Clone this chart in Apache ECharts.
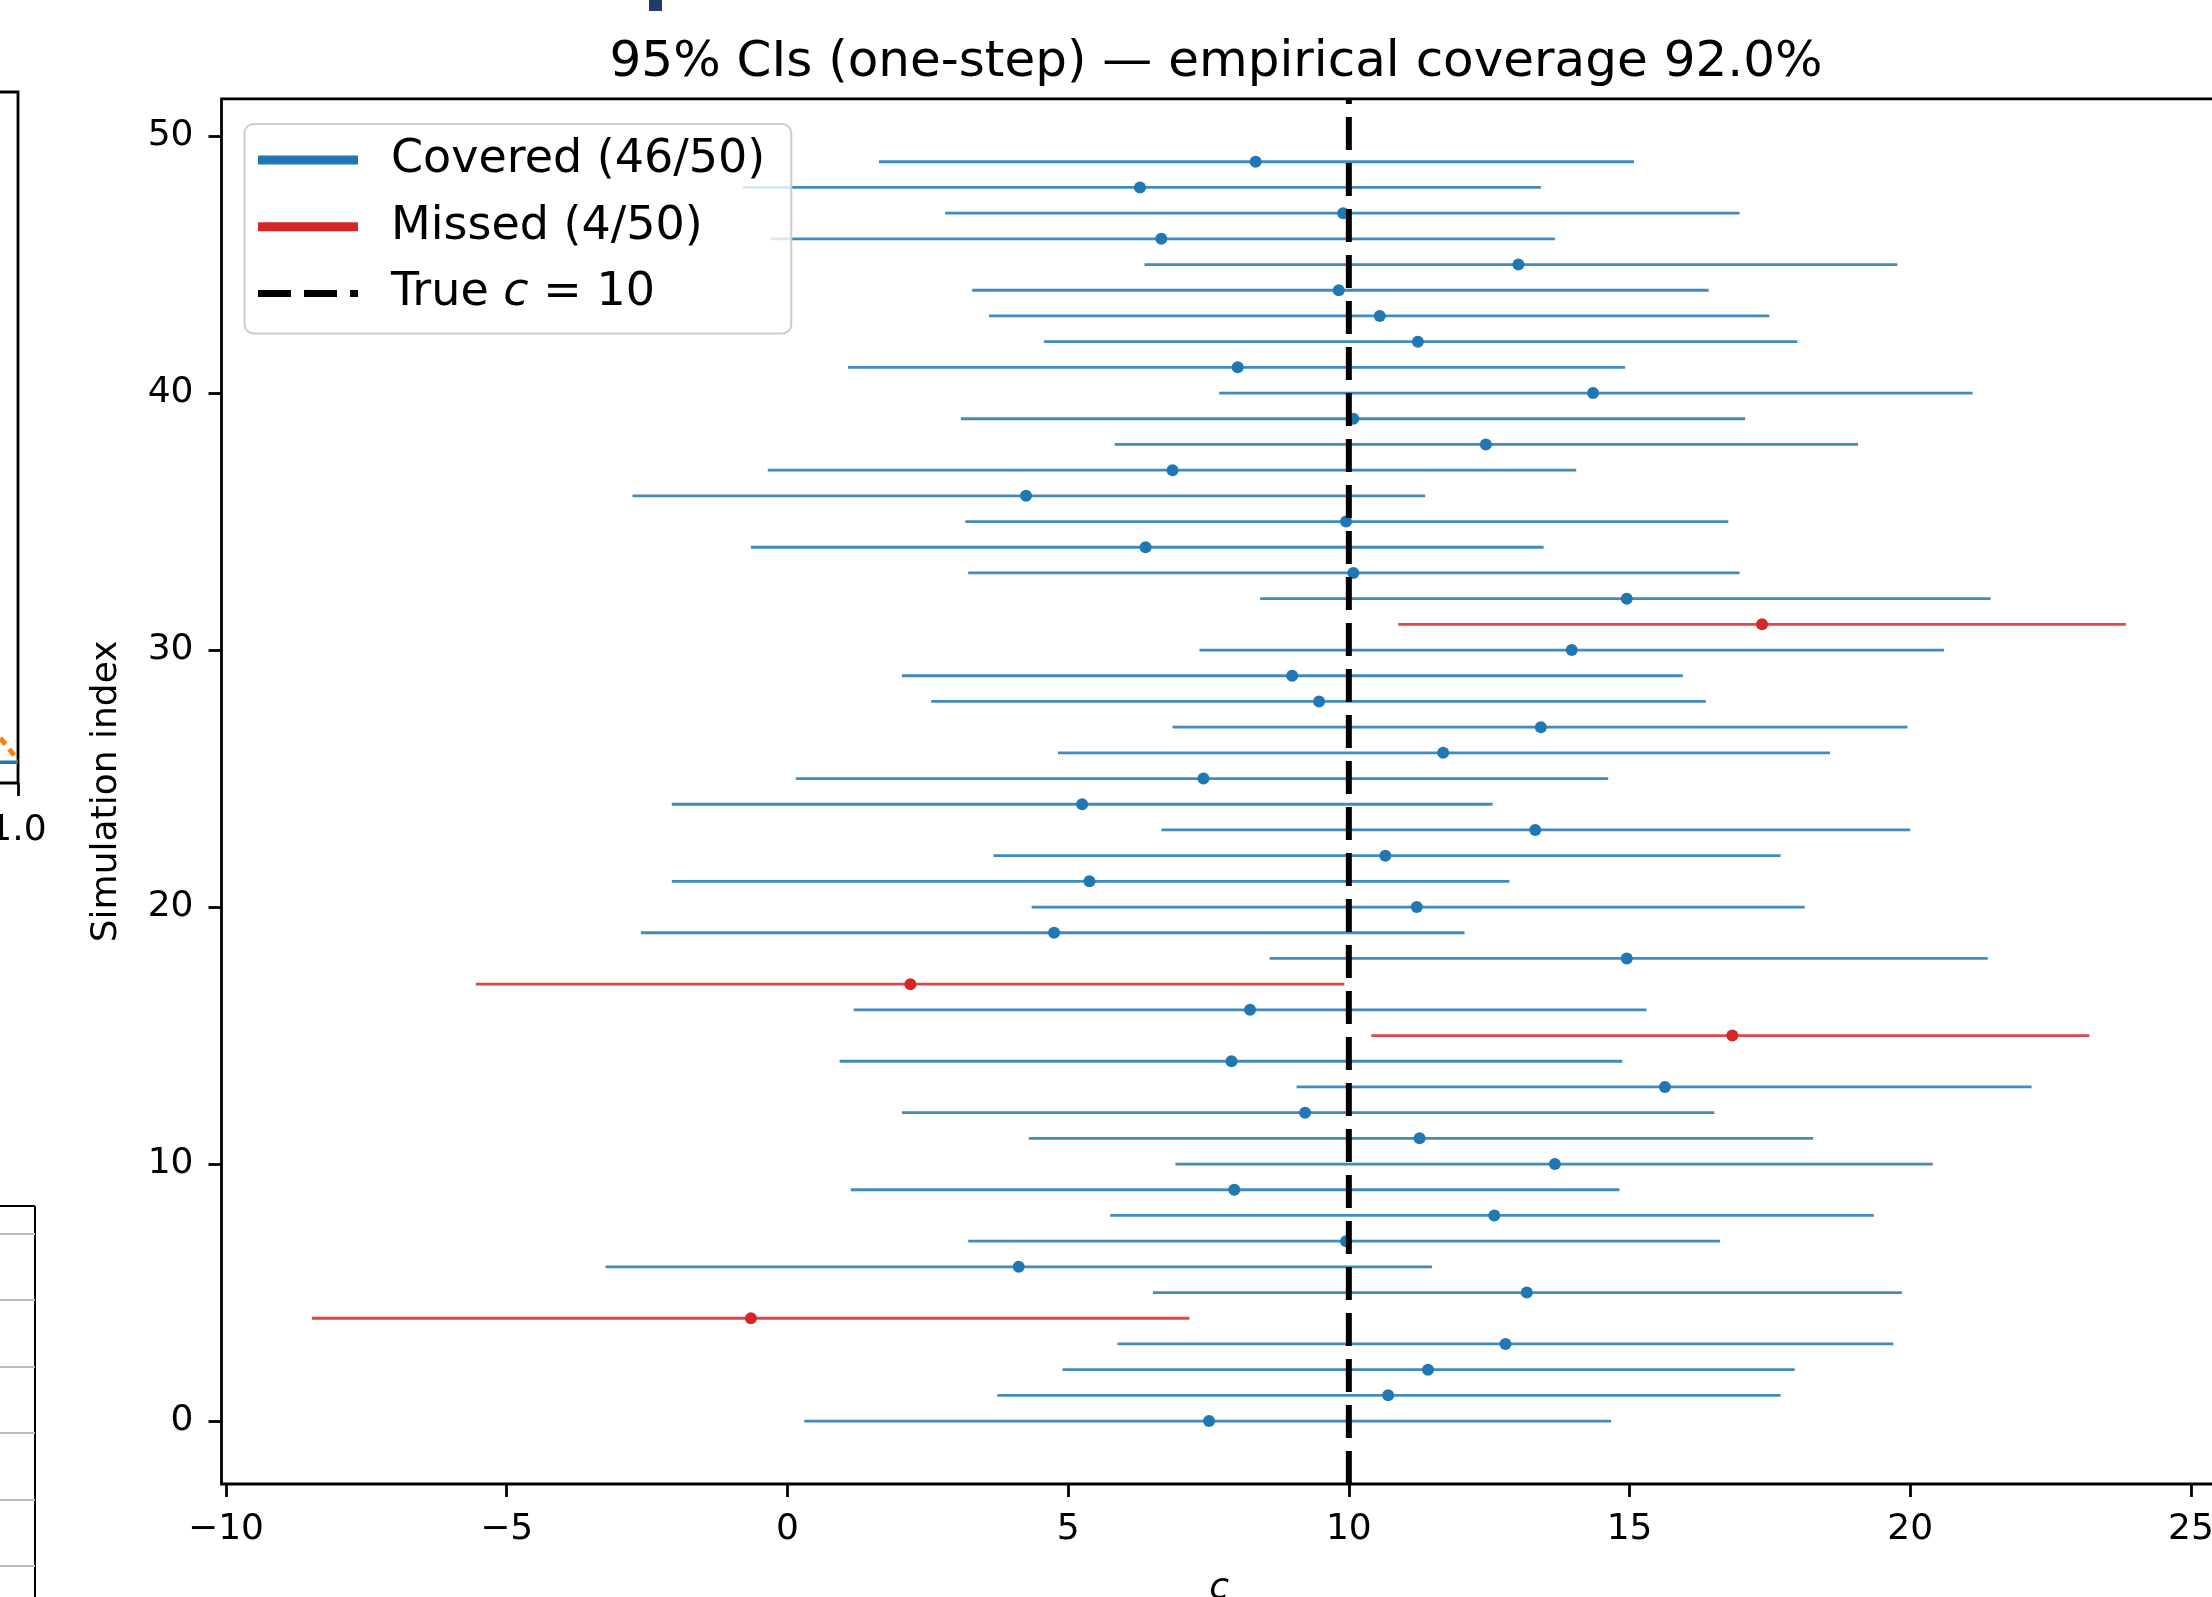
<!DOCTYPE html>
<html>
<head>
<meta charset="utf-8">
<script src="https://cdn.jsdelivr.net/npm/echarts@6/dist/echarts.min.js"></script>
<style>
  html, body { margin: 0; padding: 0; background: #fff; }
  #chart { width: 2212px; height: 1597px; }
</style>
</head>
<body>
<div id="chart"></div>
<script>
// simulation index (y) and the 95% interval
const simIndex = [0, 1, 2, 3, 4, 5, 6, 7, 8, 9, 10, 11, 12, 13, 14, 15, 16, 17, 18, 19,
  20, 21, 22, 23, 24, 25, 26, 27, 28, 29, 30, 31, 32, 33, 34, 35, 36, 37, 38, 39,
  40, 41, 42, 43, 44, 45, 46, 47, 48, 49];
const ciLow = [0.30, 3.74, 4.90, 5.88, -8.47, 6.51, -3.24, 3.22, 5.75, 1.13,
  6.91, 4.30, 2.04, 9.07, 0.93, 10.40, 1.18, -5.55, 8.59, -2.61,
  4.35, -2.06, 3.67, 6.66, -2.06, 0.15, 4.82, 6.86, 2.56, 2.04,
  7.34, 10.88, 8.42, 3.22, -0.65, 3.17, -2.76, -0.35, 5.83, 3.09,
  7.69, 1.08, 4.57, 3.59, 3.29, 6.36, -0.30, 2.81, -0.80, 1.63];
const estimate = [7.51, 10.70, 11.41, 12.79, -0.65, 13.17, 4.12, 9.95, 12.59, 7.96,
  13.67, 11.26, 9.22, 15.63, 7.91, 16.83, 8.24, 2.19, 14.95, 4.75,
  11.21, 5.38, 10.65, 13.32, 5.25, 7.41, 11.68, 13.42, 9.47, 8.99,
  13.97, 17.36, 14.95, 10.08, 6.38, 9.95, 4.25, 6.86, 12.44, 10.08,
  14.35, 8.02, 11.23, 10.55, 9.82, 13.02, 6.66, 9.90, 6.28, 8.34];
const ciHigh = [14.67, 17.69, 17.94, 19.70, 7.16, 19.85, 11.48, 16.61, 19.35, 14.82,
  20.40, 18.27, 16.51, 22.16, 14.87, 23.19, 15.30, 9.92, 21.38, 12.06,
  18.12, 12.86, 17.69, 20.00, 12.56, 14.62, 18.57, 19.95, 16.36, 15.95,
  20.60, 23.84, 21.43, 16.96, 13.47, 16.76, 11.36, 14.05, 19.07, 17.06,
  21.11, 14.92, 17.99, 17.49, 16.41, 19.77, 13.67, 16.96, 13.42, 15.08];
const trueC = 10;

const xTicks = [-10, -5, 0, 5, 10, 15, 20, 25];
const yTicks = [0, 10, 20, 30, 40, 50];
const xRange = [-10.08, 25.46];
const yRange = [-2.45, 51.45];

// bits of the neighbouring panel that show at the left edge
const fragBlue = [[0.9, 0.030], [1.0, 0.030]];
const fragOrange = [[0.985, 0.065], [1.0, 0.033]];
const fragTicks = [1.0];

const BLUE = '#1f77b4';
const RED = '#d62728';
const FONT = 'DejaVu Sans';

const covered = [];
const missed = [];
for (let i = 0; i < simIndex.length; i++) {
  const row = [ciLow[i], estimate[i], ciHigh[i], simIndex[i]];
  if (ciLow[i] <= trueC && trueC <= ciHigh[i]) covered.push(row);
  else missed.push(row);
}
const coveredName = 'Covered (' + covered.length + '/' + simIndex.length + ')';
const missedName = 'Missed (' + missed.length + '/' + simIndex.length + ')';
const trueName = 'True c = ' + trueC;

function renderCI(color) {
  return function (params, api) {
    const lo = api.coord([api.value(0), api.value(3)]);
    const hi = api.coord([api.value(2), api.value(3)]);
    const mid = api.coord([api.value(1), api.value(3)]);
    return {
      type: 'group',
      children: [{
        type: 'line',
        shape: { x1: lo[0], y1: lo[1], x2: hi[0], y2: hi[1] },
        style: { stroke: color, lineWidth: 2.8, opacity: 0.85 }
      }, {
        type: 'circle',
        shape: { cx: mid[0], cy: mid[1], r: 6 },
        style: { fill: color }
      }]
    };
  };
}

const minus = v => String(v).replace('-', '\u2212');

const chart = echarts.init(document.getElementById('chart'));
chart.setOption({
  animation: false,
  backgroundColor: '#ffffff',
  title: {
    text: '95% CIs (one-step) \u2014 empirical coverage 92.0%',
    left: 1211,
    textAlign: 'center',
    top: 33,
    textStyle: { fontFamily: FONT, fontSize: 50, fontWeight: 'normal', color: '#000' }
  },
  legend: {
    orient: 'vertical',
    left: 244.5,
    top: 124,
    padding: [10, 26, 14, 10],
    itemGap: 14.7,
    itemWidth: 100,
    itemHeight: 9,
    backgroundColor: 'rgba(255,255,255,0.8)',
    borderColor: '#cccccc',
    borderWidth: 2,
    borderRadius: 9,
    data: [
      { name: coveredName, icon: 'rect' },
      { name: missedName, icon: 'rect' },
      { name: trueName, lineStyle: { width: 7 } }
    ],
    formatter: function (name) {
      if (name === trueName) return 'True {it|c} = ' + trueC;
      return name;
    },
    textStyle: {
      fontFamily: FONT,
      fontSize: 46,
      lineHeight: 52,
      color: '#000',
      padding: [0, 0, 0, 28],
      rich: {
        it: { fontFamily: FONT, fontSize: 46, fontStyle: 'italic', color: '#000' }
      }
    }
  },
  grid: [{
    left: 221.5,
    top: 98.8,
    right: -4.8,
    bottom: 113,
    outerBoundsMode: 'none',
    show: true,
    borderColor: '#000',
    borderWidth: 2.8
  }, {
    left: -100,
    top: 92,
    width: 118,
    height: 691,
    outerBoundsMode: 'none',
    show: true,
    borderColor: '#000',
    borderWidth: 2.8
  }],
  xAxis: [{
    type: 'value',
    gridIndex: 0,
    min: xRange[0],
    max: xRange[1],
    name: 'c',
    nameLocation: 'middle',
    nameGap: 87,
    nameTextStyle: { fontFamily: FONT, fontSize: 36, fontStyle: 'italic', color: '#000' },
    axisLine: { show: false, onZero: false },
    splitLine: { show: false },
    axisTick: {
      customValues: xTicks,
      length: 13,
      lineStyle: { color: '#000', width: 2.8 }
    },
    axisLabel: {
      customValues: xTicks,
      margin: 28,
      formatter: minus,
      fontFamily: FONT,
      fontSize: 36,
      color: '#000'
    }
  }, {
    type: 'value',
    gridIndex: 1,
    min: 0.9,
    max: 1.0,
    axisLine: { show: false, onZero: false },
    splitLine: { show: false },
    axisTick: {
      customValues: fragTicks,
      length: 13,
      lineStyle: { color: '#000', width: 2.8 }
    },
    axisLabel: {
      customValues: fragTicks,
      margin: 30,
      formatter: v => v.toFixed(1),
      fontFamily: FONT,
      fontSize: 36,
      color: '#000'
    }
  }],
  yAxis: [{
    type: 'value',
    gridIndex: 0,
    min: yRange[0],
    max: yRange[1],
    name: 'Simulation index',
    nameLocation: 'middle',
    nameGap: 97,
    nameTextStyle: { fontFamily: FONT, fontSize: 36, color: '#000' },
    axisLine: { show: false, onZero: false },
    splitLine: { show: false },
    axisTick: {
      customValues: yTicks,
      length: 13,
      lineStyle: { color: '#000', width: 2.8 }
    },
    axisLabel: {
      customValues: yTicks,
      margin: 28,
      fontFamily: FONT,
      fontSize: 36,
      color: '#000'
    }
  }, {
    type: 'value',
    gridIndex: 1,
    min: 0,
    max: 1,
    show: false
  }],
  series: [{
    name: coveredName,
    type: 'custom',
    xAxisIndex: 0,
    yAxisIndex: 0,
    itemStyle: { color: BLUE },
    renderItem: renderCI(BLUE),
    encode: { x: [0, 1, 2], y: 3 },
    data: covered,
    z: 2
  }, {
    name: missedName,
    type: 'custom',
    xAxisIndex: 0,
    yAxisIndex: 0,
    itemStyle: { color: RED },
    renderItem: renderCI(RED),
    encode: { x: [0, 1, 2], y: 3 },
    data: missed,
    z: 2
  }, {
    name: trueName,
    type: 'line',
    xAxisIndex: 0,
    yAxisIndex: 0,
    symbol: 'none',
    showSymbol: false,
    data: [[trueC, yRange[0]], [trueC, yRange[1]]],
    lineStyle: { color: '#000', width: 6, type: [33, 13] },
    itemStyle: { color: '#000' },
    z: 3
  }, {
    name: 'frag-blue',
    type: 'line',
    xAxisIndex: 1,
    yAxisIndex: 1,
    symbol: 'none',
    data: fragBlue,
    lineStyle: { color: BLUE, width: 3.5 }
  }, {
    name: 'frag-orange',
    type: 'line',
    xAxisIndex: 1,
    yAxisIndex: 1,
    symbol: 'none',
    data: fragOrange,
    lineStyle: { color: '#ff7f0e', width: 5, type: [8, 6] }
  }],
  graphic: [
    // edge of the table panel at the bottom left
    { type: 'line', shape: { x1: 35, y1: 1206, x2: 35, y2: 1597 }, style: { stroke: '#000', lineWidth: 2 } },
    { type: 'line', shape: { x1: 0, y1: 1206, x2: 35, y2: 1206 }, style: { stroke: '#000', lineWidth: 2 } },
    { type: 'line', shape: { x1: 0, y1: 1234, x2: 35, y2: 1234 }, style: { stroke: '#bbbbbb', lineWidth: 2 } },
    { type: 'line', shape: { x1: 0, y1: 1300, x2: 35, y2: 1300 }, style: { stroke: '#bbbbbb', lineWidth: 2 } },
    { type: 'line', shape: { x1: 0, y1: 1367, x2: 35, y2: 1367 }, style: { stroke: '#bbbbbb', lineWidth: 2 } },
    { type: 'line', shape: { x1: 0, y1: 1433, x2: 35, y2: 1433 }, style: { stroke: '#bbbbbb', lineWidth: 2 } },
    { type: 'line', shape: { x1: 0, y1: 1500, x2: 35, y2: 1500 }, style: { stroke: '#bbbbbb', lineWidth: 2 } },
    { type: 'line', shape: { x1: 0, y1: 1566, x2: 35, y2: 1566 }, style: { stroke: '#bbbbbb', lineWidth: 2 } },
    // sliver of a panel above
    { type: 'rect', shape: { x: 649, y: 0, width: 13, height: 11 }, style: { fill: '#25396b' } }
  ]
});
</script>
</body>
</html>
